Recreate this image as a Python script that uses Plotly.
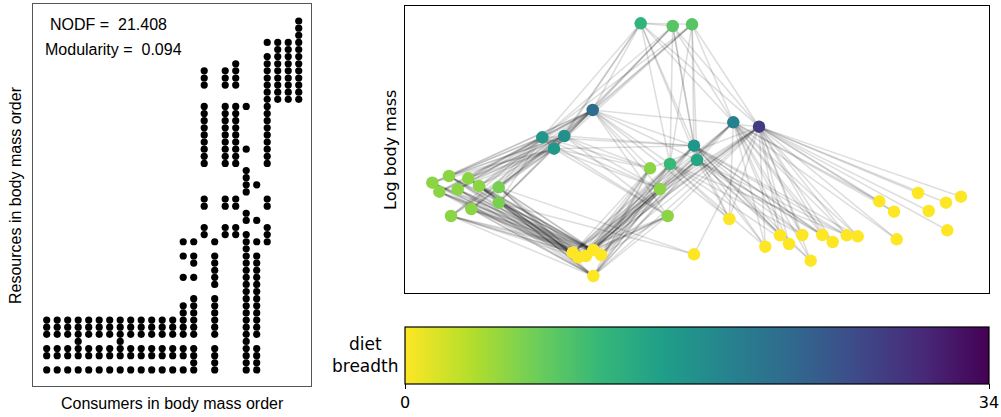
import plotly.graph_objects as go

W, H = 1001, 417

# ---------------- data ----------------
# Resource rows (0 = largest body mass) eaten by each consumer (0 = smallest consumer)
small_diet = [42, 43, 44, 46, 47, 49]
small_diet_45 = [42, 43, 44, 45, 46, 47, 49]
mid_diet = [7, 8, 9] + list(range(12, 21)) + [25, 26, 29, 30]
diets = [
    small_diet, small_diet, small_diet, small_diet_45, small_diet, small_diet, small_diet,
    small_diet_45, small_diet, small_diet, small_diet, small_diet, small_diet,
    [31, 33, 36, 40, 41, 42, 43, 44, 46, 47, 49],
    [31, 33, 34, 36, 39, 40, 41, 42, 43, 44, 46, 47, 48, 49],
    mid_diet,
    [31, 33, 34, 35, 36, 37, 39, 40, 41, 42, 43, 44, 46, 47, 48, 49],
    mid_diet,
    [6] + mid_diet,
    [12, 18, 21, 22, 23, 24, 27, 28] + list(range(30, 50)),
    [23, 28, 31] + list(range(33, 45)) + [46, 47, 48, 49],
    [3] + list(range(5, 21)) + [25, 26, 29, 30, 31],
    list(range(3, 12)),
    list(range(3, 12)),
    list(range(0, 12)),
]

# network node (species, indexed by resource row) layout position and log body mass
node_x = [235.7, 287.0, 267.7, 187.7, 328.3, 354.0, 159.3, 137.3, 289.0, 149.0,
          292.0, 265.0, 245.0, 44.0, 63.3, 27.3, 74.0, 93.7, 255.0, 52.7,
          34.3, 513.0, 556.0, 474.3, 541.0, 93.7, 66.3, 523.7, 489.0, 46.0,
          262.7, 324.3, 542.3, 397.3, 417.3, 375.0, 441.7, 452.7, 491.7, 427.7,
          384.0, 360.3, 188.3, 167.7, 196.0, 289.0, 181.0, 173.3, 405.7, 188.3]
node_logmass = [270.0, 269.0, 267.3, 183.3, 171.0, 166.6, 157.3, 156.0, 147.6, 144.6,
                133.3, 129.3, 125.0, 117.3, 115.0, 110.6, 107.3, 106.0, 104.3, 104.0,
                101.6, 100.3, 96.6, 92.0, 90.6, 90.6, 84.3, 82.3, 81.6, 77.3,
                77.3, 74.3, 63.0, 58.3, 58.3, 58.0, 58.0, 57.0, 54.0, 51.3,
                49.3, 46.6, 43.3, 40.6, 38.3, 39.0, 37.3, 36.0, 32.6, 17.3]
# which network node each consumer column is
consumer_node = [30, 29, 26, 25, 20, 19, 18, 17, 16, 15, 14, 13, 12,
                 11, 10, 9, 8, 7, 6, 5, 4, 3, 2, 1, 0]

nodf_text = "NODF =  21.408"
modularity_text = "Modularity =  0.094"
cb_min, cb_max = 0, 34

# ---------------- figure ----------------
def px(X):
    return X / W

def py(Y):
    return 1 - Y / H

fig = go.Figure()

# matrix
mx, my = [], []
for c, d in enumerate(diets):
    for r in d:
        mx.append(c)
        my.append(r)
fig.add_trace(go.Scatter(x=mx, y=my, mode="markers", xaxis="x", yaxis="y",
                         marker=dict(color="black", size=7.2, line=dict(width=0)),
                         hoverinfo="skip", showlegend=False))

# edges: one trace per consumer
for c, d in enumerate(diets):
    k = consumer_node[c]
    ex, ey = [], []
    for r in d:
        if r == k:
            continue
        ex += [node_x[k], node_x[r], None]
        ey += [node_logmass[k], node_logmass[r], None]
    fig.add_trace(go.Scatter(x=ex, y=ey, mode="lines", xaxis="x2", yaxis="y2",
                             line=dict(color="rgba(0,0,0,0.13)", width=1.6),
                             hoverinfo="skip", showlegend=False))

# diet breadth for each node
breadth = [0] * len(node_x)
for c, d in enumerate(diets):
    breadth[consumer_node[c]] = len(d)

fig.add_trace(go.Scatter(
    x=node_x, y=node_logmass, mode="markers", xaxis="x2", yaxis="y2",
    marker=dict(size=12.5, color=breadth, colorscale="Viridis", reversescale=True,
                cmin=cb_min, cmax=cb_max, line=dict(width=0),
                colorbar=dict(orientation="h", xanchor="left", x=px(405), yanchor="top",
                              y=py(327.3), lenmode="pixels", len=583.7,
                              thicknessmode="pixels", thickness=57.4, xpad=0, ypad=0,
                              outlinewidth=1.2, outlinecolor="black",
                              tickvals=[cb_min, cb_max], ticks="outside", ticklen=5,
                              tickwidth=1, tickcolor="black",
                              tickfont=dict(family="DejaVu Sans", size=16, color="black"))),
    hoverinfo="skip", showlegend=False))

noaxis = dict(showgrid=False, zeroline=False, showticklabels=False, ticks="",
              showline=True, mirror=True)

fig.update_layout(
    width=W, height=H, margin=dict(l=0, r=0, t=0, b=0),
    paper_bgcolor="white", plot_bgcolor="white",
    xaxis=dict(domain=[px(33.3), px(310.7)], range=[-1.276, 25.14],
               linecolor="#555555", linewidth=1, **noaxis),
    yaxis=dict(domain=[py(386), py(4)], range=[51.26, -2.39],
               linecolor="#555555", linewidth=1, **noaxis),
    xaxis2=dict(domain=[px(405), px(988.7)], range=[0, 583.7],
                linecolor="black", linewidth=1.3, anchor="y2", **noaxis),
    yaxis2=dict(domain=[py(293.3), py(6)], range=[0, 287.3],
                linecolor="black", linewidth=1.3, anchor="x2", **noaxis),
)

ann_l = dict(family="Liberation Sans", size=16, color="black")
ann_r = dict(family="DejaVu Sans", size=16, color="black")
anns = [
    dict(text=nodf_text, x=px(48.3), y=py(25), xanchor="left", yanchor="middle", font=ann_l),
    dict(text=modularity_text, x=px(42.7), y=py(49), xanchor="left", yanchor="middle", font=ann_l),
    dict(text="Resources in body mass order", x=px(15), y=py(195), textangle=-90,
         xanchor="center", yanchor="middle", font=ann_l),
    dict(text="Consumers in body mass order", x=px(172), y=py(403),
         xanchor="center", yanchor="middle", font=ann_l),
    dict(text="Log body mass", x=px(390), y=py(150), textangle=-90,
         xanchor="center", yanchor="middle", font=ann_r),
    dict(text="diet<br>breadth", x=px(365), y=py(355), xanchor="center", yanchor="middle",
         font=dict(family="DejaVu Sans", size=17, color="black")),
]
for a in anns:
    a.update(xref="paper", yref="paper", showarrow=False)
fig.update_layout(annotations=anns)

fig.write_html("out.html", config={"displayModeBar": False},
               post_script="document.body.style.margin='0';document.body.style.overflow='hidden';")
